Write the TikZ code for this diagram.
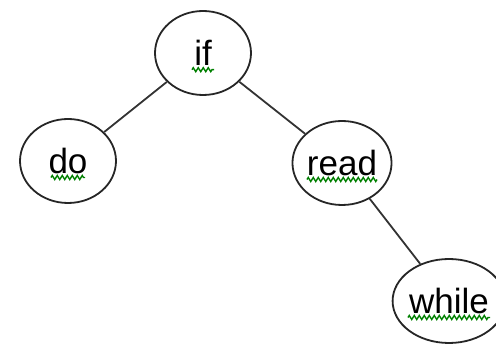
\documentclass[tikz,border=0pt]{standalone}
\usepackage{fontspec}
\setmainfont{Liberation Sans}
\usetikzlibrary{shapes.geometric, decorations.pathmorphing}

\begin{document}
\begin{tikzpicture}[x=1pt, y=-1pt,
    word/.style={draw=black!85, line width=1.8pt, ellipse, minimum width=96pt,
        minimum height=84pt, inner sep=0pt, font=\fontsize{35}{42}\selectfont},
    edge/.style={draw=black!80, line width=1.8pt},
    squiggle/.style={draw=green!50!black, line width=1.4pt, decorate,
        decoration={zigzag, segment length=5pt, amplitude=2pt}}]
    \useasboundingbox (0,0) rectangle (496,344);
    % --- nodes ---
    \node[word] (if) at (203,53) {if};
    \node[word] (do) at (68,161) {do};
    \node[word] (read) at (342,163) {read};
    \node[word] (while) at (449,301) {while};
    % --- edges ---
    \draw[edge] (if) -- (do);
    \draw[edge] (if) -- (read);
    \draw[edge] (read) -- (while);
    % --- spell-check squiggles ---
    \foreach \n/\w in {if/11, do/17, read/35, while/41} {
        \draw[squiggle] ([xshift=-\w pt, yshift=-4pt]\n.base) -- ([xshift=\w pt, yshift=-4pt]\n.base);
    }
\end{tikzpicture}
\end{document}
